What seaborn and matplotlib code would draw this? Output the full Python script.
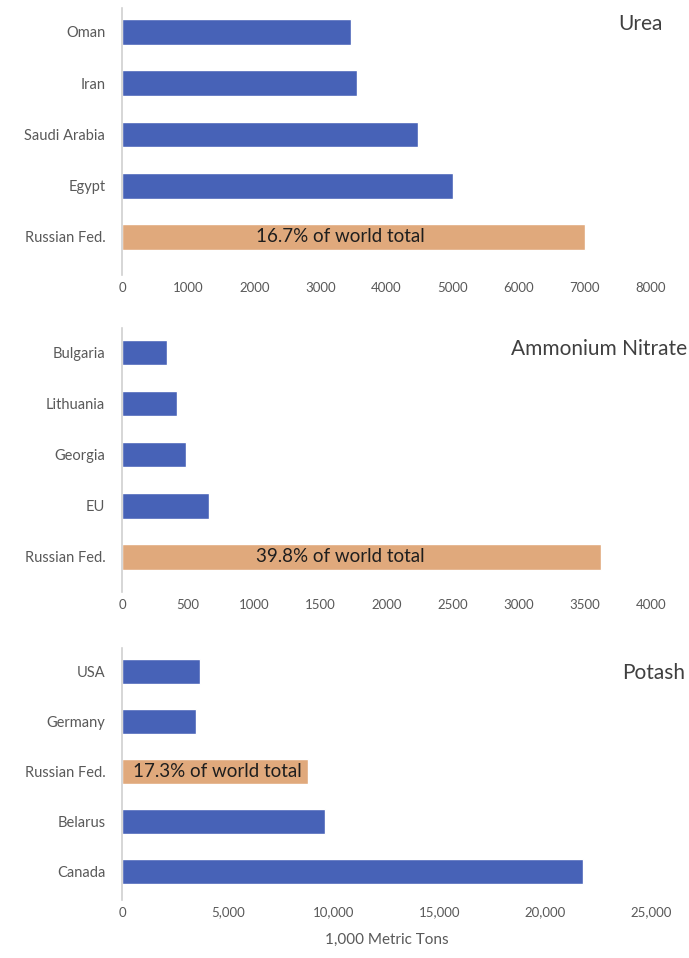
import pandas as pd
import seaborn as sns
import matplotlib.pyplot as plt
from matplotlib.ticker import FuncFormatter

# data
urea_countries = ['Oman', 'Iran', 'Saudi Arabia', 'Egypt', 'Russian Fed.']
urea_values = [3470, 3560, 4480, 5010, 7000]

an_countries = ['Bulgaria', 'Lithuania', 'Georgia', 'EU', 'Russian Fed.']
an_values = [340, 415, 485, 660, 3620]

potash_countries = ['USA', 'Germany', 'Russian Fed.', 'Belarus', 'Canada']
potash_values = [3690, 3500, 8800, 9600, 21800]

titles = ['Urea', 'Ammonium Nitrate', 'Potash']
shares = ['16.7% of world total', '39.8% of world total', '17.3% of world total']

BLUE = '#4762B7'
ORANGE = '#E0A97C'
GREY = '#595959'

sns.set_style('white')
plt.rcParams['font.family'] = ['Lato', 'DejaVu Sans']

fig = plt.figure(figsize=(6.89, 9.58), dpi=100)

# axes boxes in figure fractions: left, bottom, width, height
boxes = [
    [0.177, 0.713, 0.768, 0.279],
    [0.177, 0.382, 0.768, 0.276],
    [0.177, 0.061, 0.768, 0.263],
]
ylims = [(4.74, -0.47), (4.69, -0.49), (4.56, -0.48)]
xlims = [8000, 4000, 25000]
xsteps = [1000, 500, 5000]
title_x = [0.962, 0.997, 0.995]
title_y = [0.975, 0.636, 0.298]
# where the share label sits (data x, alignment)
share_pos = [(3300, 'center'), (1650, 'center'), (520, 'left')]

panels = [
    (urea_countries, urea_values),
    (an_countries, an_values),
    (potash_countries, potash_values),
]

for i, (countries, values) in enumerate(panels):
    ax = fig.add_axes(boxes[i])
    df = pd.DataFrame({'country': countries, 'value': values})
    pal = {c: (ORANGE if c == 'Russian Fed.' else BLUE) for c in countries}
    sns.barplot(data=df, x='value', y='country', hue='country', palette=pal,
                order=countries, width=0.5, legend=False, ax=ax,
                saturation=1)

    ax.set_xlim(0, xlims[i])
    ax.set_xticks(range(0, xlims[i] + 1, xsteps[i]))
    ax.set_ylim(*ylims[i])
    if i == 2:
        ax.xaxis.set_major_formatter(FuncFormatter(lambda v, p: f'{int(v):,}'))
        ax.set_xlabel('1,000 Metric Tons', fontsize=11, color=GREY, labelpad=10)
    else:
        ax.set_xlabel('')
    ax.set_ylabel('')

    for s in ['top', 'right', 'bottom']:
        ax.spines[s].set_visible(False)
    ax.spines['left'].set_color('#d0d0d0')
    ax.spines['left'].set_linewidth(1.2)
    ax.tick_params(axis='x', length=0, labelsize=9.5, labelcolor=GREY, pad=5)
    ax.tick_params(axis='y', length=0, labelsize=10.5, labelcolor=GREY, pad=12)

    rus = countries.index('Russian Fed.')
    sx, ha = share_pos[i]
    ax.text(sx, rus, shares[i], ha=ha, va='center', fontsize=13.5,
            color='#1e1e1e')

    fig.text(title_x[i], title_y[i], titles[i], ha='right', va='center',
             fontsize=15, color='#404040')

fig.savefig('out.png', dpi=100)
